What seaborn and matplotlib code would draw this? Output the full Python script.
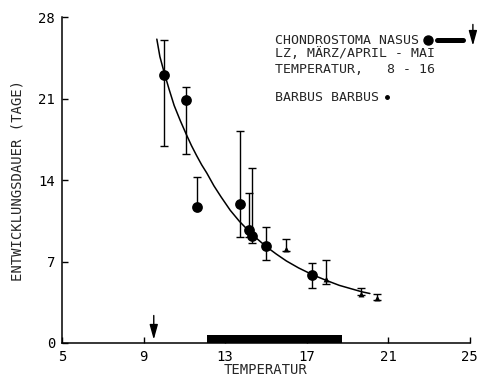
import matplotlib
matplotlib.use("Agg")
import matplotlib.pyplot as plt
import seaborn as sns
import numpy as np
import pandas as pd

# --- data ---
# Chondrostoma nasus (large circles)
cn_temp = [10.0, 11.1, 11.6, 13.75, 14.15, 14.3, 15.0, 17.25]
cn_days = [23.0, 20.9, 11.7, 11.95, 9.7, 9.15, 8.3, 5.85]
cn_low  = [16.9, 16.2, 11.7, 9.1, 9.1, 8.6, 7.1, 4.7]
cn_high = [26.0, 22.0, 14.3, 18.2, 12.9, 15.0, 10.0, 6.9]

# Barbus barbus (small triangles)
bb_temp = [16.0, 17.95, 19.65, 20.45]
bb_days = [8.1, 5.5, 4.2, 3.9]
bb_low  = [7.9, 5.1, 4.1, 3.7]
bb_high = [8.9, 7.1, 4.7, 4.2]

# fitted curve
curve_t = [9.65, 9.8, 10.0, 10.25, 10.5, 10.8, 11.1, 11.35, 11.6, 11.85, 12.1, 12.45, 12.8, 13.25, 13.7, 14.2, 14.6, 15.0, 15.5, 16.0, 16.6, 17.3, 18.0, 18.6, 19.2, 19.7, 20.1]
curve_d = [26.1, 24.6, 23.3, 21.8, 20.4, 19.1, 17.9, 16.95, 16.1, 15.3, 14.6, 13.5, 12.55, 11.4, 10.45, 9.55, 8.9, 8.3, 7.65, 7.05, 6.45, 5.85, 5.35, 4.95, 4.65, 4.4, 4.25]

# spawning period bar on temperature axis, arrow position
band_t = [12.1, 18.75]
arrow_t = 9.5

x_ticks = [5, 9, 13, 17, 21, 25]
y_ticks = [0, 7, 14, 21, 28]
x_label = "TEMPERATUR"
y_label = "ENTWICKLUNGSDAUER (TAGE)"
legend_lines = ["CHONDROSTOMA NASUS", "LZ, MÄRZ/APRIL - MAI", "TEMPERATUR,   8 - 16", "BARBUS BARBUS"]

sns.set_style("ticks")
plt.rcParams['font.family'] = ['DejaVu Sans Mono', 'DejaVu Sans']

fig = plt.figure(figsize=(4.89, 3.78), dpi=100)
ax = fig.add_axes([0.1268, 0.0926, 0.834, 0.8624])

cn = pd.DataFrame({"t": cn_temp, "d": cn_days})
bb = pd.DataFrame({"t": bb_temp, "d": bb_days})
cv = pd.DataFrame({"t": curve_t, "d": curve_d})

sns.lineplot(data=cv, x="t", y="d", sort=False, color="black", lw=1.1, ax=ax)

ax.errorbar(cn_temp, cn_days,
            yerr=[np.array(cn_days) - np.array(cn_low), np.array(cn_high) - np.array(cn_days)],
            fmt="none", ecolor="black", elinewidth=1.0, capsize=3, capthick=1.0)
ax.errorbar(bb_temp, bb_days,
            yerr=[np.array(bb_days) - np.array(bb_low), np.array(bb_high) - np.array(bb_days)],
            fmt="none", ecolor="black", elinewidth=1.0, capsize=3, capthick=1.0)

sns.scatterplot(data=cn, x="t", y="d", marker="o", s=60, color="black", edgecolor="black", linewidth=0, ax=ax, zorder=5)
sns.scatterplot(data=bb, x="t", y="d", marker="^", s=18, color="black", edgecolor="black", linewidth=0, ax=ax, zorder=5)

# bottom band and arrow
ax.fill_between(band_t, [0.0, 0.0], [0.68, 0.68], color="black", lw=0, zorder=4)
ax.annotate("", xy=(arrow_t, 0.05), xytext=(arrow_t, 2.6),
            arrowprops=dict(arrowstyle="-|>,head_length=0.9,head_width=0.25", color="black", lw=1.0),
            fontsize=10)

ax.set_xlim(5, 25)
ax.set_ylim(0, 28)
ax.set_xticks(x_ticks)
ax.set_yticks(y_ticks)
ax.tick_params(direction="in", length=4, width=1, labelsize=10, pad=5, colors="black")
ax.set_xlabel(x_label, fontsize=10, labelpad=-1)
ax.set_ylabel(y_label, fontsize=10, labelpad=10)
sns.despine(ax=ax)
for s in ["left", "bottom"]:
    ax.spines[s].set_linewidth(1.1)
    ax.spines[s].set_color("black")

# legend text block
tx = 15.45
ax.text(tx, 26.0, legend_lines[0], fontsize=9.5, va="center", ha="left")
ax.text(tx, 24.85, legend_lines[1], fontsize=9.5, va="center", ha="left")
ax.text(tx, 23.5, legend_lines[2], fontsize=9.5, va="center", ha="left")
ax.text(tx, 21.1, legend_lines[3], fontsize=9.5, va="center", ha="left")
ax.plot([22.95], [26.05], marker="o", ms=6.5, color="black", clip_on=False)
ax.plot([20.95], [21.1], marker="o", ms=2.5, color="black", clip_on=False)
ax.plot([23.4, 24.65], [26.05, 26.05], color="black", lw=3.6, solid_capstyle="round", clip_on=False)
ax.annotate("", xy=(25.15, 25.3), xytext=(25.15, 27.6),
            arrowprops=dict(arrowstyle="-|>,head_length=0.9,head_width=0.25", color="black", lw=1.0),
            fontsize=10, annotation_clip=False)

fig.savefig("out.png", dpi=100)
